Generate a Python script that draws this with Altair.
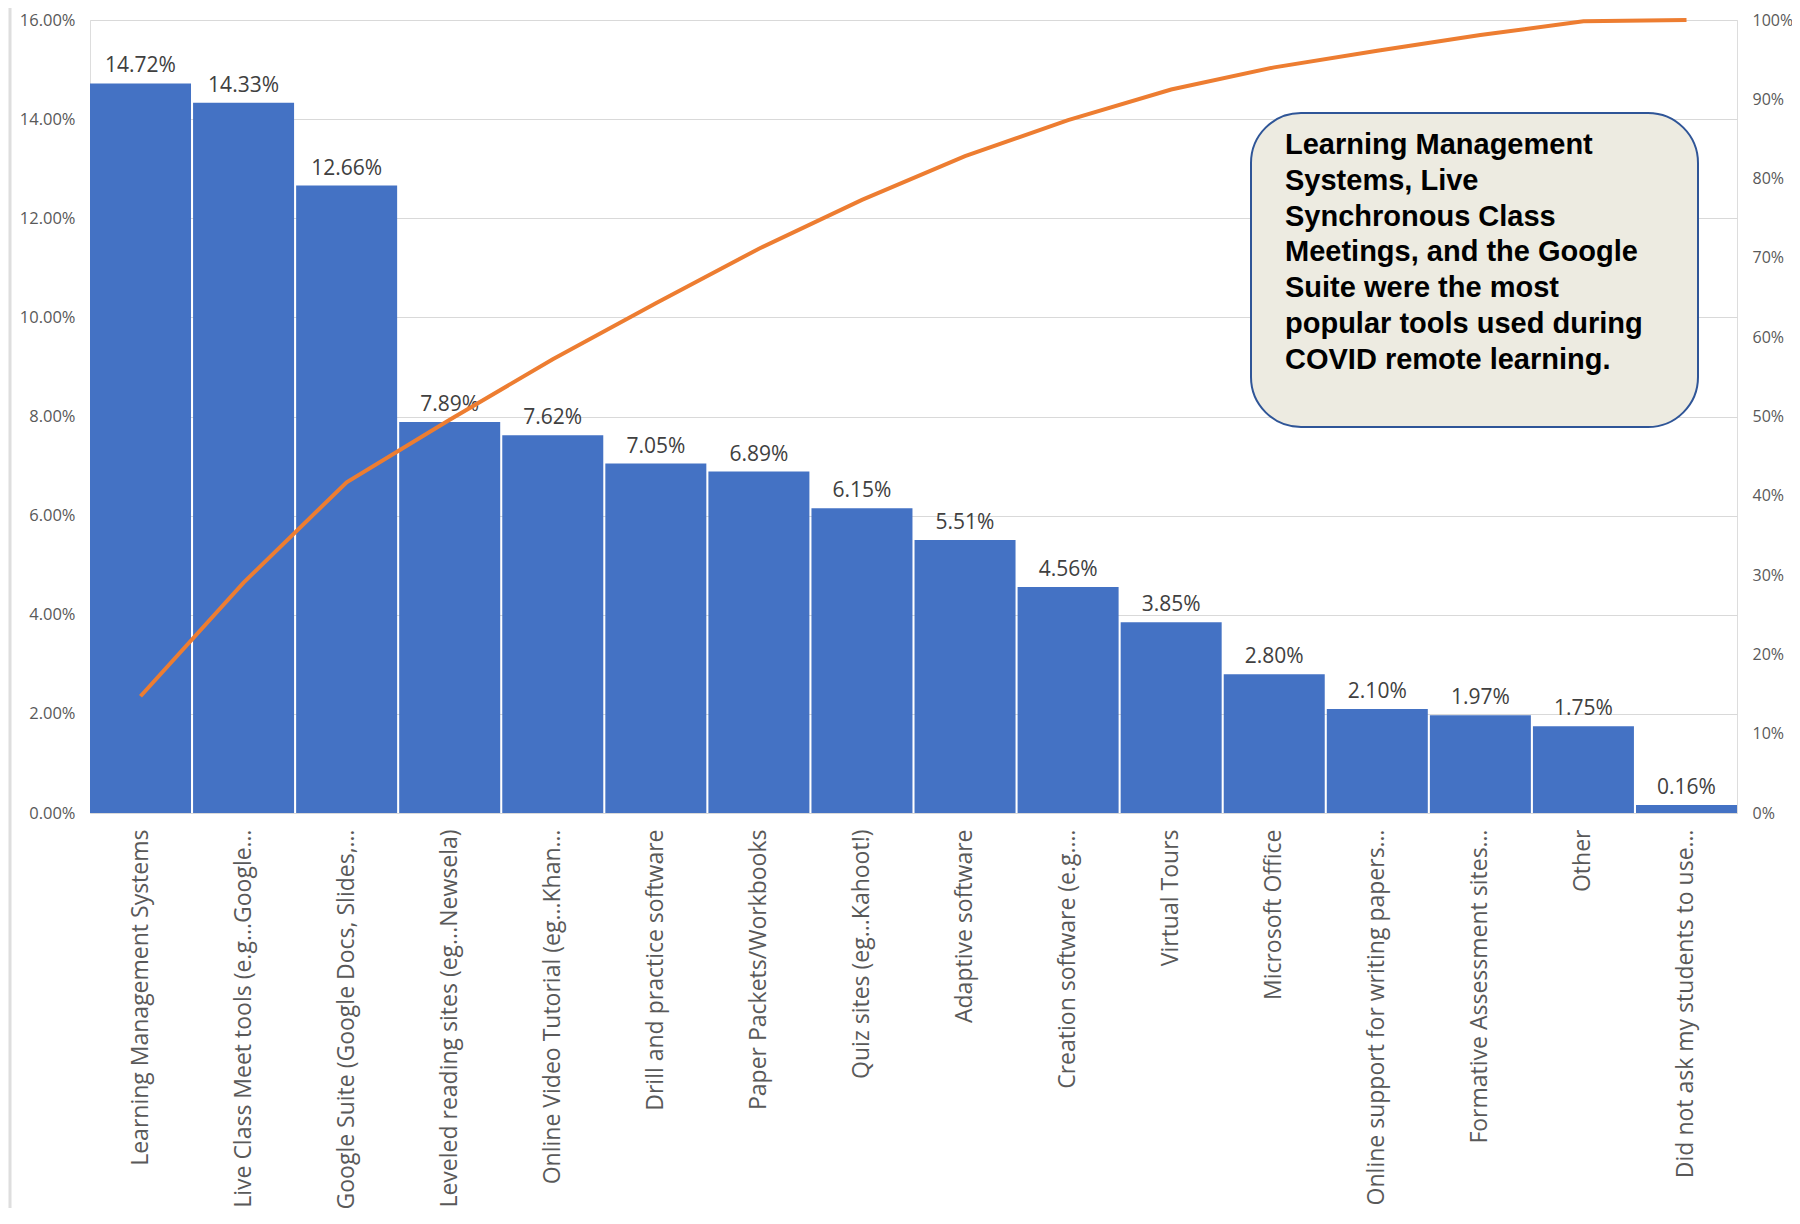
import altair as alt
import pandas as pd

categories = [
    "Learning Management Systems",
    "Live Class Meet tools (e.g...Google…",
    "Google Suite (Google Docs, Slides,…",
    "Leveled reading sites (eg...Newsela)",
    "Online Video Tutorial (eg...Khan…",
    "Drill and practice software",
    "Paper Packets/Workbooks",
    "Quiz sites (eg...Kahoot!)",
    "Adaptive software",
    "Creation software (e.g.…",
    "Virtual Tours",
    "Microsoft Office",
    "Online support for writing papers…",
    "Formative Assessment sites…",
    "Other",
    "Did not ask my students to use…",
]
share = [14.72, 14.33, 12.66, 7.89, 7.62, 7.05, 6.89, 6.15, 5.51, 4.56, 3.85, 2.80, 2.10, 1.97, 1.75, 0.16]
cumulative = [14.72, 29.05, 41.71, 49.60, 57.22, 64.27, 71.16, 77.31, 82.82, 87.38, 91.23, 94.03, 96.13, 98.10, 99.85, 100.0]
left_ticks = [0, 2, 4, 6, 8, 10, 12, 14, 16]
right_ticks = [0, 10, 20, 30, 40, 50, 60, 70, 80, 90, 100]
note_lines = [
    "Learning Management",
    "Systems, Live",
    "Synchronous Class",
    "Meetings, and the Google",
    "Suite were the most",
    "popular tools used during",
    "COVID remote learning.",
]

df = pd.DataFrame({"cat": categories, "share": share, "cum": cumulative})

W, H = 1647, 793
FONT = "Open Sans"
GRAY = "#595959"

x_enc = alt.X(
    "cat:N",
    sort=categories,
    scale=alt.Scale(paddingInner=0.02, paddingOuter=0.0),
    axis=alt.Axis(
        title=None, labelAngle=-90, labelFontSize=23, labelColor=GRAY, labelFont=FONT,
        labelPadding=16, labelLimit=500, ticks=False, domain=False, grid=False,
    ),
)

y_left = alt.Y(
    "share:Q",
    scale=alt.Scale(domain=[0, 16], nice=False),
    axis=alt.Axis(
        title=None, values=left_ticks, labelExpr="format(datum.value, '.2f') + '%'",
        labelFontSize=16.5, labelColor=GRAY, labelFont=FONT, labelPadding=15,
        ticks=False, domain=False, grid=True, gridColor="#D9D9D9", gridWidth=1.2,
    ),
)

bars = alt.Chart(df).mark_bar(color="#4472C4").encode(x=x_enc, y=y_left)

labels = alt.Chart(df).transform_calculate(
    lbl="format(datum.share, '.2f') + '%'"
).mark_text(
    baseline="bottom", dy=-7, fontSize=21, color="#404040", font=FONT
).encode(x=x_enc, y=y_left, text="lbl:N")

left_layer = alt.layer(bars, labels)

line = alt.Chart(df).mark_line(color="#ED7D31", strokeWidth=4).encode(
    x=x_enc,
    y=alt.Y(
        "cum:Q",
        scale=alt.Scale(domain=[0, 100], nice=False),
        axis=alt.Axis(
            title=None, orient="right", values=right_ticks,
            labelExpr="format(datum.value, '.0f') + '%'",
            labelFontSize=16, labelColor=GRAY, labelFont=FONT, labelPadding=15,
            ticks=False, domain=False, grid=False,
        ),
    ),
)

note_df = pd.DataFrame({"t": ["\n".join(note_lines)]})
box = alt.Chart(note_df).mark_rect(
    fill="#EDEBE1", stroke="#2F5597", strokeWidth=2, cornerRadius=50
).encode(
    x=alt.value(1161), x2=alt.value(1608), y=alt.value(93), y2=alt.value(407)
)
note = alt.Chart(note_df).mark_text(
    align="left", baseline="alphabetic", fontSize=29, fontWeight="bold",
    font="Liberation Sans", color="#000000", lineBreak="\n", lineHeight=35.8,
).encode(x=alt.value(1195), y=alt.value(134), text="t:N")

border = alt.Chart(note_df).mark_rule(color="#DEDEDE", strokeWidth=3).encode(
    x=alt.value(-80), y=alt.value(-12), y2=alt.value(1200)
)

chart = (
    alt.layer(left_layer, line, box, note, border)
    .resolve_scale(y="independent")
    .properties(
        width=W, height=H,
        autosize=alt.AutoSizeParams(type="none"),
        padding={"left": 82, "top": 12, "right": 55, "bottom": 395},
    )
    .configure_view(stroke="#D9D9D9", strokeWidth=1.2)
    .configure(background="white")
)

chart.save("out.html", embed_options={"renderer": "svg", "actions": False})
